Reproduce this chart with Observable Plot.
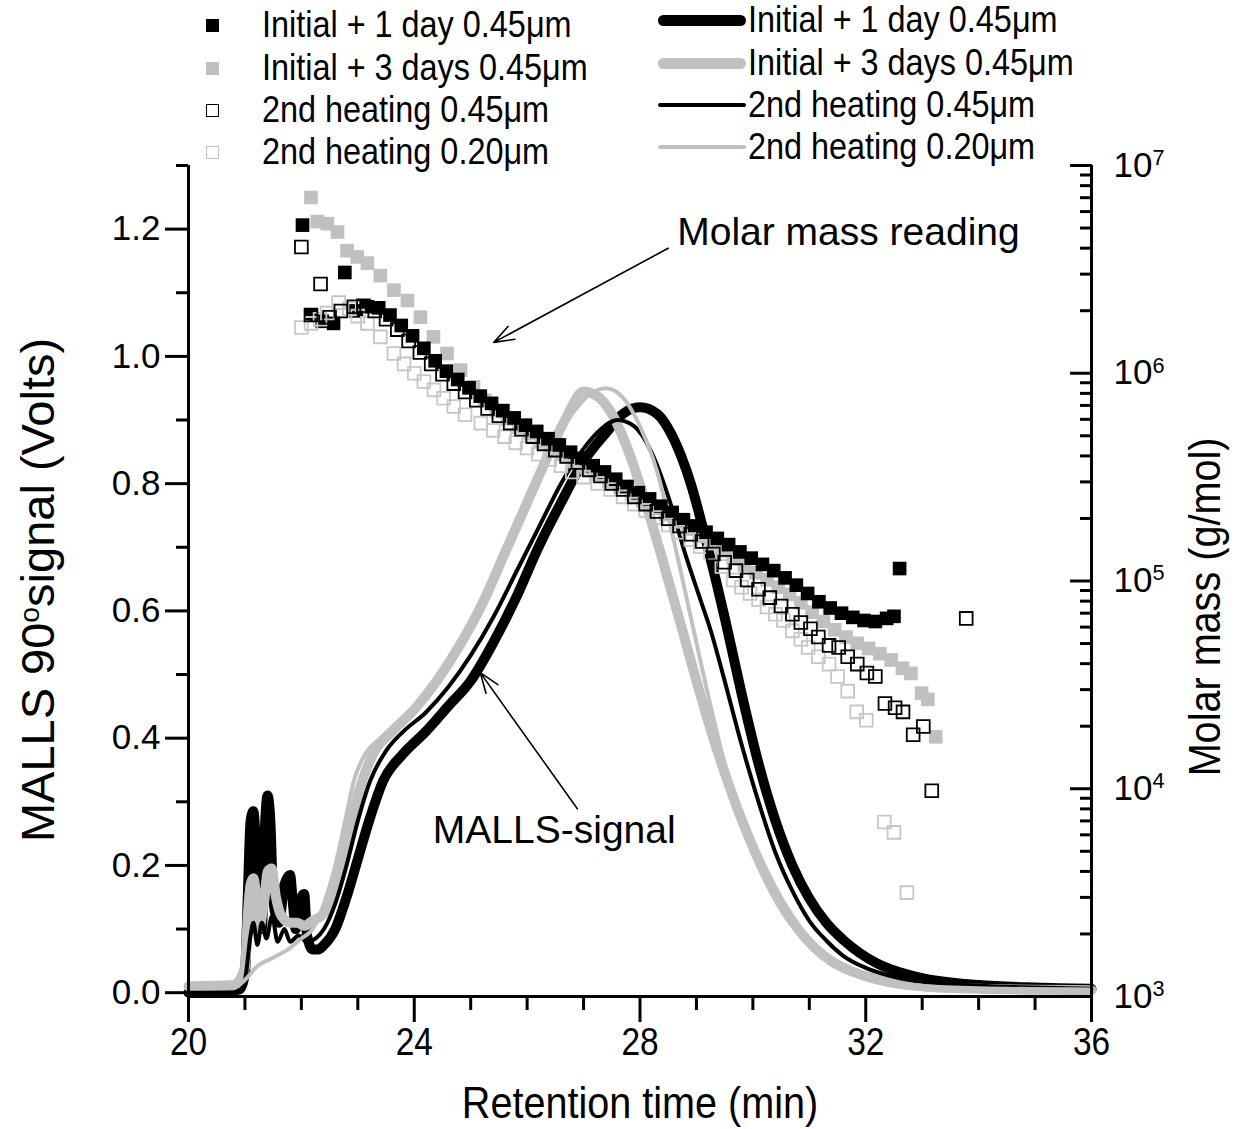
<!DOCTYPE html>
<html><head><meta charset="utf-8">
<script src="https://cdn.jsdelivr.net/npm/d3@7"></script>
<script src="https://cdn.jsdelivr.net/npm/@observablehq/plot@0.6"></script>
<style>
body{margin:0;background:#fff;}
#wrap{position:relative;width:1234px;height:1129px;overflow:hidden;}
#wrap svg{position:absolute;left:0;top:0;}
.lt{position:absolute;font-family:"Liberation Sans",Arial,sans-serif;line-height:1;color:#000;white-space:nowrap;transform-origin:0 50%;}
.mk{position:absolute;box-sizing:border-box;}
.ln{position:absolute;border-radius:6px;}
</style></head><body><div id="wrap"></div>
<script>
// ---------- DATA ----------
const seriesNames = ["Initial + 1 day 0.45μm","Initial + 3 days 0.45μm","2nd heating 0.45μm","2nd heating 0.20μm"];
const xTicks = [20,24,28,32,36];
const yTicks = [0,0.2,0.4,0.6,0.8,1.0,1.2];
const molarTicks = [1e3,1e4,1e5,1e6,1e7];

// MALLS 90° signal (Volts) vs retention time (min)
const malls1day = [[20,0.0],[20.5,0.0],[20.9,0.005],[21.0,0.03],[21.05,0.15],[21.1,0.27],[21.15,0.285],[21.2,0.22],[21.25,0.12],[21.3,0.10],[21.35,0.25],[21.4,0.31],[21.45,0.27],[21.5,0.15],[21.55,0.12],[21.6,0.11],[21.7,0.17],[21.8,0.185],[21.85,0.14],[21.9,0.10],[22.0,0.15],[22.05,0.155],[22.1,0.09],[22.2,0.068],[22.3,0.068],[22.4,0.075],[22.6,0.10],[22.8,0.15],[23.0,0.21],[23.2,0.27],[23.45,0.333],[23.8,0.375],[24.2,0.41],[24.6,0.45],[25.0,0.49],[25.4,0.55],[25.8,0.62],[26.2,0.70],[26.6,0.77],[27.0,0.835],[27.4,0.88],[27.7,0.91],[28.0,0.92],[28.3,0.91],[28.6,0.87],[28.9,0.80],[29.2,0.70],[29.5,0.59],[29.8,0.47],[30.1,0.36],[30.4,0.27],[30.7,0.20],[31.0,0.148],[31.3,0.11],[31.6,0.083],[31.9,0.062],[32.2,0.046],[32.6,0.032],[33.0,0.023],[33.5,0.016],[34.0,0.012],[35.0,0.008],[36.0,0.006]];
const malls3days = [[20,0.01],[20.8,0.012],[21.0,0.04],[21.05,0.12],[21.1,0.17],[21.15,0.18],[21.2,0.15],[21.25,0.10],[21.3,0.12],[21.35,0.15],[21.4,0.19],[21.47,0.195],[21.55,0.15],[21.65,0.12],[21.8,0.11],[21.93,0.11],[22.05,0.105],[22.2,0.113],[22.4,0.125],[22.6,0.16],[22.85,0.26],[23.08,0.333],[23.3,0.38],[23.6,0.41],[24.0,0.445],[24.4,0.49],[24.8,0.545],[25.2,0.61],[25.6,0.69],[26.0,0.77],[26.4,0.85],[26.7,0.905],[27.0,0.945],[27.2,0.94],[27.5,0.91],[27.8,0.85],[28.1,0.77],[28.4,0.68],[28.75,0.57],[29.0,0.49],[29.3,0.40],[29.6,0.32],[29.9,0.25],[30.2,0.19],[30.5,0.14],[30.8,0.10],[31.1,0.07],[31.4,0.049],[31.8,0.032],[32.2,0.021],[32.6,0.014],[33,0.01],[34,0.006],[36,0.004]];
const mallsHeat045 = [[20,0.002],[20.9,0.004],[21.0,0.02],[21.1,0.09],[21.15,0.11],[21.22,0.075],[21.3,0.11],[21.38,0.085],[21.48,0.12],[21.58,0.08],[21.7,0.10],[21.8,0.08],[21.95,0.09],[22.1,0.08],[22.25,0.085],[22.4,0.10],[22.6,0.14],[22.8,0.20],[23.0,0.27],[23.22,0.333],[23.5,0.38],[23.8,0.41],[24.2,0.44],[24.6,0.48],[25.0,0.53],[25.4,0.59],[25.8,0.66],[26.2,0.73],[26.6,0.80],[27.0,0.855],[27.3,0.885],[27.6,0.90],[27.9,0.89],[28.2,0.85],[28.5,0.78],[28.8,0.69],[29.1,0.61],[29.25,0.57],[29.5,0.49],[29.8,0.39],[30.1,0.30],[30.4,0.22],[30.7,0.16],[31.0,0.113],[31.3,0.082],[31.6,0.058],[32.0,0.039],[32.5,0.025],[33.0,0.017],[34.0,0.011],[35.0,0.008],[36.0,0.006]];
const mallsHeat020 = [[20,0.006],[20.8,0.007],[21.0,0.02],[21.2,0.04],[21.5,0.055],[21.8,0.07],[22.0,0.085],[22.2,0.10],[22.4,0.14],[22.6,0.20],[22.8,0.28],[22.93,0.333],[23.1,0.37],[23.4,0.40],[23.7,0.425],[24.0,0.45],[24.4,0.495],[24.8,0.55],[25.2,0.62],[25.6,0.70],[26.0,0.78],[26.4,0.855],[26.8,0.91],[27.1,0.94],[27.4,0.95],[27.7,0.935],[28.0,0.89],[28.3,0.82],[28.6,0.71],[28.95,0.57],[29.2,0.47],[29.5,0.36],[29.8,0.27],[30.1,0.20],[30.4,0.145],[30.7,0.105],[31.0,0.075],[31.4,0.05],[31.8,0.033],[32.2,0.022],[32.6,0.015],[33,0.011],[34,0.007],[36,0.005]];

// Molar mass, log10(g/mol), vs retention time (min)
const molar1day = [[22.02,6.713],[22.17,6.28],[22.37,6.25],[22.57,6.24],[22.77,6.485],[22.97,6.30],[23.17,6.32],[23.37,6.315],[23.57,6.28],[23.77,6.23],[23.97,6.18],[24.17,6.12],[24.37,6.06],[24.57,6.01],[24.77,5.97],[24.97,5.93],[25.17,5.89],[25.37,5.855],[25.57,5.82],[25.77,5.785],[25.97,5.75],[26.17,5.72],[26.37,5.685],[26.57,5.655],[26.77,5.62],[26.97,5.59],[27.17,5.555],[27.37,5.525],[27.57,5.49],[27.77,5.455],[27.97,5.425],[28.17,5.395],[28.37,5.36],[28.57,5.33],[28.77,5.295],[28.97,5.265],[29.17,5.235],[29.37,5.205],[29.57,5.175],[29.77,5.14],[29.97,5.11],[30.17,5.08],[30.37,5.05],[30.57,5.015],[30.77,4.98],[30.97,4.94],[31.17,4.90],[31.37,4.87],[31.57,4.845],[31.77,4.825],[31.97,4.81],[32.17,4.805],[32.37,4.82],[32.5,4.83],[32.6,5.06]];
const molar3days = [[22.17,6.846],[22.28,6.73],[22.46,6.72],[22.64,6.68],[22.81,6.59],[22.99,6.56],[23.17,6.53],[23.40,6.47],[23.64,6.40],[23.88,6.35],[24.11,6.27],[24.34,6.175],[24.58,6.095],[24.82,6.015],[25.05,5.935],[25.25,5.87],[25.45,5.82],[25.65,5.78],[25.85,5.74],[26.05,5.71],[26.25,5.675],[26.45,5.64],[26.65,5.61],[26.85,5.575],[27.05,5.545],[27.25,5.51],[27.45,5.48],[27.65,5.45],[27.85,5.415],[28.05,5.385],[28.25,5.35],[28.45,5.32],[28.65,5.285],[28.85,5.25],[29.05,5.215],[29.25,5.18],[29.45,5.145],[29.65,5.11],[29.85,5.075],[30.05,5.04],[30.25,5.005],[30.45,4.97],[30.65,4.935],[30.85,4.895],[31.05,4.85],[31.25,4.805],[31.45,4.765],[31.65,4.73],[31.85,4.70],[32.05,4.675],[32.25,4.65],[32.45,4.62],[32.65,4.58],[32.8,4.555],[32.99,4.46],[33.1,4.43],[33.24,4.25]];
const molarHeat045 = [[22.0,6.608],[22.17,6.28],[22.34,6.43],[22.5,6.27],[22.7,6.30],[22.93,6.32],[23.1,6.325],[23.3,6.30],[23.5,6.26],[23.7,6.21],[23.9,6.155],[24.1,6.10],[24.3,6.045],[24.5,5.995],[24.7,5.95],[24.9,5.91],[25.1,5.87],[25.3,5.83],[25.5,5.795],[25.7,5.76],[25.9,5.73],[26.1,5.695],[26.3,5.66],[26.5,5.63],[26.7,5.60],[26.9,5.57],[27.1,5.535],[27.3,5.505],[27.5,5.47],[27.7,5.44],[27.9,5.405],[28.1,5.37],[28.3,5.335],[28.5,5.30],[28.7,5.265],[28.9,5.225],[29.1,5.19],[29.3,5.13],[29.5,5.09],[29.7,5.05],[29.9,5.005],[30.1,4.96],[30.3,4.92],[30.5,4.88],[30.7,4.84],[30.85,4.80],[31.02,4.77],[31.16,4.73],[31.35,4.69],[31.52,4.68],[31.68,4.635],[31.85,4.60],[32.02,4.557],[32.17,4.54],[32.34,4.41],[32.52,4.39],[32.66,4.37],[32.84,4.26],[33.02,4.30],[33.17,3.99],[33.78,4.82]];
const molarHeat020 = [[22.0,6.22],[22.17,6.24],[22.33,6.26],[22.46,6.29],[22.66,6.34],[22.85,6.31],[23.0,6.275],[23.17,6.24],[23.4,6.175],[23.64,6.095],[23.82,6.045],[24.0,6.0],[24.17,5.96],[24.35,5.92],[24.52,5.88],[24.7,5.84],[24.9,5.80],[25.18,5.76],[25.4,5.725],[25.6,5.695],[25.8,5.665],[26.0,5.64],[26.2,5.61],[26.4,5.585],[26.6,5.555],[26.8,5.525],[27.0,5.50],[27.25,5.47],[27.48,5.44],[27.7,5.405],[27.9,5.37],[28.1,5.34],[28.3,5.305],[28.5,5.27],[28.7,5.235],[28.9,5.20],[29.07,5.165],[29.25,5.135],[29.45,5.07],[29.65,5.005],[29.8,4.97],[29.95,4.94],[30.1,4.91],[30.25,4.875],[30.4,4.84],[30.54,4.81],[30.7,4.76],[30.85,4.72],[30.98,4.68],[31.16,4.635],[31.35,4.60],[31.5,4.54],[31.68,4.47],[31.84,4.37],[32.01,4.33],[32.33,3.84],[32.5,3.79],[32.73,3.50]];

// annotations (data units: min, Volts)
const arrows = [{x1:28.5,y1:1.17,x2:25.41,y2:1.022},{x1:26.89,y1:0.289,x2:25.17,y2:0.503}];
const notes = [{x:28.66,y:1.194,text:"Molar mass reading"},{x:24.33,y:0.255,text:"MALLS-signal"}];

// ---------- SCALES / HELPERS ----------
const yLo = -0.006, yHi = 1.3;                 // left axis domain (Volts)
const logLo = 3, logHi = 7;                    // right axis domain (log10 g/mol)
const toV = lg => yLo + (lg - logLo) / (logHi - logLo) * (yHi - yLo);
const fromV = v => logLo + (v - yLo) / (yHi - yLo) * (logHi - logLo);
const pts = arr => arr.map(([t, v]) => ({t, v}));
const mpts = arr => arr.map(([t, lg]) => ({t, v: toV(lg)}));

const xMinor = d3.range(21, 36).filter(d => !xTicks.includes(d));
const yMinor = d3.range(0.1, 1.31, 0.2).map(d => +d.toFixed(1));
const molarMinor = [];
for (let k = 3; k < 7; k++) for (let m = 2; m <= 9; m++) molarMinor.push(m * 10 ** k);

const regular = '"Liberation Sans",Arial,sans-serif';
const GRAY = "#c0c0c0", LGRAY = "#c6c6c6";
const blank = () => "";

const lineOpts = {x: "t", y: "v", curve: "monotone-x", strokeLinejoin: "round", strokeLinecap: "round"};

const chart = Plot.plot({
  width: 1234, height: 1129,
  marginLeft: 188, marginRight: 143, marginTop: 165, marginBottom: 133,
  x: {domain: [20, 36]},
  y: {domain: [yLo, yHi]},
  style: {fontFamily: regular, background: "transparent", color: "#000"},
  marks: [
    Plot.line(pts(malls1day), {...lineOpts, stroke: "#000", strokeWidth: 10}),
    Plot.line(pts(malls3days), {...lineOpts, stroke: GRAY, strokeWidth: 10}),
    Plot.line(pts(mallsHeat045), {...lineOpts, stroke: "#000", strokeWidth: 4}),
    Plot.line(pts(mallsHeat020), {...lineOpts, stroke: GRAY, strokeWidth: 4}),

    Plot.dot(mpts(molar3days), {x: "t", y: "v", symbol: "square", r: 7.7, fill: GRAY, stroke: "none"}),
    Plot.dot(mpts(molar1day), {x: "t", y: "v", symbol: "square", r: 7.7, fill: "#000", stroke: "none"}),
    Plot.dot(mpts(molarHeat020), {x: "t", y: "v", symbol: "square", r: 7.2, fill: "none", stroke: LGRAY, strokeWidth: 1.8}),
    Plot.dot(mpts(molarHeat045), {x: "t", y: "v", symbol: "square", r: 7.2, fill: "none", stroke: "#000", strokeWidth: 1.8}),

    Plot.arrow(arrows, {x1: "x1", y1: "y1", x2: "x2", y2: "y2", stroke: "#000", strokeWidth: 1.6, headLength: 20, headAngle: 40}),
    Plot.text(notes, {x: "x", y: "y", text: "text", textAnchor: "start", fontSize: 39, fontFamily: regular}),

    // frame lines
    Plot.ruleX([20, 36], {y1: yLo, y2: yHi, strokeWidth: 3}),
    Plot.ruleY([yLo], {strokeWidth: 3}),

    // bottom axis
    Plot.axisX(xTicks, {anchor: "bottom", tickSize: 26, tickPadding: 6, strokeWidth: 3, fontSize: 38, fontFamily: regular, label: null, tickFormat: d => String(d)}),
    Plot.axisX(xMinor, {anchor: "bottom", tickSize: 14, strokeWidth: 3, label: null, tickFormat: blank}),
    // left axis
    Plot.axisY(yTicks, {anchor: "left", tickSize: 23, tickPadding: 5, strokeWidth: 3, fontSize: 35, fontFamily: regular, label: null, tickFormat: d3.format(".1f")}),
    Plot.axisY(yMinor, {anchor: "left", tickSize: 12, strokeWidth: 3, label: null, tickFormat: blank}),
    // right axis (log molar mass), ticks pointing inward
    Plot.axisY(molarTicks.map(m => toV(Math.log10(m))), {anchor: "right", tickSize: -22, strokeWidth: 3, label: null, tickFormat: blank}),
    Plot.axisY(molarMinor.map(m => toV(Math.log10(m))), {anchor: "right", tickSize: -12, strokeWidth: 3, label: null, tickFormat: blank}),
    Plot.axisY(molarTicks.map(m => toV(Math.log10(m))), {anchor: "right", tickSize: 0, tickPadding: 22, fontSize: 35, fontFamily: regular, label: null, tickFormat: v => "10^" + Math.round(fromV(v))}),

    // axis titles
    Plot.text(["Retention time (min)"], {frameAnchor: "bottom", textAnchor: "middle", lineAnchor: "middle", dy: 107, fontSize: 44, fontFamily: regular}),
    Plot.text(["MALLS 90°signal (Volts)"], {frameAnchor: "left", textAnchor: "middle", lineAnchor: "middle", rotate: -90, dx: -150, dy: 9, fontSize: 47, fontFamily: regular}),
    Plot.text(["Molar mass (g/mol)"], {frameAnchor: "right", textAnchor: "middle", lineAnchor: "middle", rotate: -90, dx: 114, dy: 26, fontSize: 44, fontFamily: regular})
  ]
});

const wrap = document.getElementById("wrap");
wrap.appendChild(chart);

// horizontal condensing of some labels (style only): scale about each text's own anchor
function squeeze(el, s) {
  const tr = el.getAttribute("transform") || "";
  el.setAttribute("transform", `${tr} scale(${s},1)`);
}
d3.select(chart).selectAll('g[aria-label="x-axis tick label"] text').each(function() { squeeze(this, 0.88); });

// superscripts
d3.select(chart).selectAll("text").each(function() {
  const t = this.textContent;
  const m = /^10\^(\d)$/.exec(t);
  if (m) {
    this.textContent = "";
    d3.select(this).append("tspan").text("10");
    d3.select(this).append("tspan").attr("dy", "-0.55em").attr("font-size", "0.62em").text(m[1]);
  } else if (t === "MALLS 90°signal (Volts)") {
    this.textContent = "";
    d3.select(this).append("tspan").text("MALLS 90");
    d3.select(this).append("tspan").attr("dy", "-0.5em").attr("font-size", "0.6em").text("o");
    d3.select(this).append("tspan").attr("dy", "0.3em").text("signal (Volts)");
  } else if (t === "Retention time (min)") {
    squeeze(this, 0.9);
  } else if (t === "Molar mass (g/mol)") {
    squeeze(this, 0.9);
  }
});

// legend (HTML overlay)
const legLeftRows = [25, 68, 110, 152];
const legRightRows = [20, 63, 105, 147];
const markerStyles = [
  "background:#000;width:13px;height:13px;",
  "background:" + GRAY + ";width:13px;height:13px;",
  "border:1.8px solid #000;width:13px;height:13px;",
  "border:1.8px solid " + LGRAY + ";width:13px;height:13px;"
];
const lineStyles = [
  {c: "#000", w: 11}, {c: GRAY, w: 11}, {c: "#000", w: 4}, {c: GRAY, w: 4}
];
const FS = 36;
seriesNames.forEach((name, i) => {
  const y = legLeftRows[i];
  const mk = document.createElement("div");
  mk.className = "mk";
  mk.style.cssText = markerStyles[i] + `left:${212 - 6.5}px;top:${y - 6.5}px;`;
  wrap.appendChild(mk);
  const tx = document.createElement("div");
  tx.className = "lt";
  tx.style.cssText = `left:262px;top:${y - 0.49 * FS}px;font-size:${FS}px;transform:scaleX(0.9);`;
  tx.textContent = name;
  wrap.appendChild(tx);

  const yr = legRightRows[i];
  const ln = document.createElement("div");
  ln.className = "ln";
  const ls = lineStyles[i];
  ln.style.cssText = `left:658px;width:88px;top:${yr - ls.w / 2}px;height:${ls.w}px;background:${ls.c};`;
  wrap.appendChild(ln);
  const tx2 = document.createElement("div");
  tx2.className = "lt";
  tx2.style.cssText = `left:748px;top:${yr - 0.49 * FS}px;font-size:${FS}px;transform:scaleX(0.9);`;
  tx2.textContent = name;
  wrap.appendChild(tx2);
});
</script></body></html>
